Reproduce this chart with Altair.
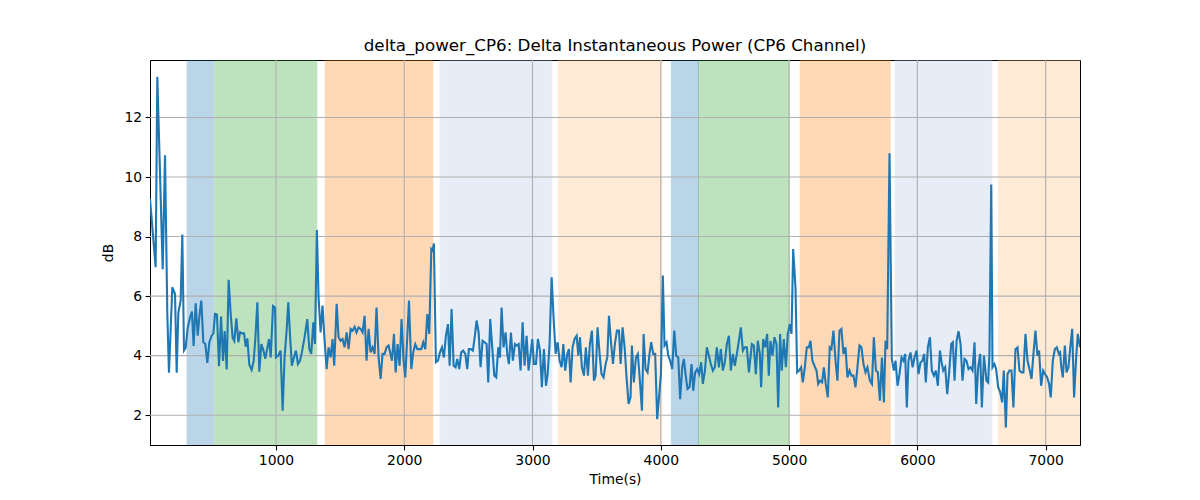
import altair as alt
import pandas as pd

# ---- data ----
times = [18, 62, 75, 117, 135, 153, 166, 192, 213, 226, 239, 257, 270, 283, 296, 312, 330, 345, 358, 374,
         390, 405, 418, 434, 449, 465, 481, 499, 512, 525, 540, 556, 572, 587, 600, 616, 631, 647, 662, 675,
         691, 707, 720, 735, 751, 764, 777, 792, 810, 826, 839, 855, 870, 886, 902, 917, 933, 946, 959, 977, 993,
         1000, 1018, 1036, 1052, 1067, 1083, 1096, 1109, 1124, 1140, 1156, 1171, 1187, 1202, 1223, 1244, 1260,
         1275, 1291, 1304, 1319, 1332, 1348, 1363, 1379, 1395, 1410, 1426, 1441, 1454, 1473, 1488, 1504, 1519,
         1535, 1551, 1566, 1582, 1597, 1613, 1628, 1644, 1660, 1675, 1691, 1706, 1722, 1738, 1753, 1769, 1784,
         1800, 1816, 1831, 1847, 1862, 1878,
         1904, 1920, 1933, 1948, 1964, 1979, 1995, 2008, 2024, 2037, 2055, 2070, 2086, 2102, 2117, 2133, 2148,
         2164, 2180, 2195, 2211, 2221, 2231, 2247, 2263, 2278, 2294, 2309, 2325, 2341, 2354, 2369, 2385, 2400,
         2413, 2429, 2444, 2460, 2476, 2491, 2504, 2520, 2535, 2551, 2564, 2580, 2595, 2611, 2626, 2642, 2655,
         2670, 2686, 2702, 2717, 2733, 2746, 2759, 2774, 2790, 2803, 2816, 2832, 2847, 2863,
         2876, 2892, 2907, 2923, 2938, 2954, 2969, 2985, 2998, 3011, 3027, 3042, 3058, 3073, 3089, 3105, 3118,
         3133, 3149, 3164, 3180, 3196, 3211, 3227, 3240, 3255, 3271, 3284, 3297, 3312, 3328, 3344, 3357, 3370,
         3385, 3401, 3416, 3432, 3447, 3463, 3479, 3492, 3507, 3523, 3538, 3554, 3570, 3583, 3596, 3611, 3627,
         3642, 3658, 3674, 3687, 3702, 3718, 3733, 3749, 3764,
         3775, 3790, 3806, 3821, 3837, 3853, 3866, 3881, 3897, 3912, 3925, 3941, 3956, 3972, 3988, 4001, 4016,
         4029, 4045, 4058, 4073, 4089, 4105, 4120, 4136, 4151, 4167, 4180, 4193, 4208, 4224, 4240, 4253, 4268,
         4284, 4299, 4315, 4328, 4344, 4359, 4375, 4390, 4406, 4421, 4437, 4453, 4468, 4484, 4499, 4515, 4531,
         4546, 4562, 4577, 4593, 4609, 4624, 4640, 4655, 4671, 4687,
         4710, 4725, 4741, 4756, 4772, 4782, 4798, 4814, 4829, 4842, 4855, 4871, 4886, 4902, 4915, 4930, 4943,
         4959, 4975, 4990, 5006, 5019, 5032, 5050, 5063, 5078, 5094, 5107, 5123, 5138, 5154, 5167, 5182, 5198,
         5214, 5227, 5242, 5258, 5271, 5286, 5302, 5317, 5330, 5346, 5362, 5377, 5393, 5408, 5424, 5440, 5455,
         5471, 5486, 5502, 5518, 5533, 5549, 5564, 5580, 5596, 5611,
         5630, 5646, 5661, 5677, 5692, 5708, 5724, 5739, 5752, 5765, 5783, 5801, 5817, 5830, 5846, 5861, 5877,
         5892, 5905, 5918, 5931, 5947, 5963, 5978, 5994, 6009, 6025, 6040, 6053, 6066, 6082, 6098, 6113, 6129,
         6144, 6160, 6176, 6189, 6202, 6217, 6233, 6248, 6264, 6277, 6290, 6306, 6321, 6337, 6352, 6368, 6383,
         6399, 6415, 6430, 6446, 6459, 6474, 6490, 6503, 6519,
         6539, 6552, 6562, 6576, 6586, 6601, 6614, 6630, 6646, 6661, 6674, 6690, 6703, 6718, 6734, 6749, 6765,
         6781, 6796, 6812, 6827, 6843, 6859, 6874, 6890, 6905, 6921, 6936, 6949, 6965, 6981, 6996, 7012, 7027,
         7040, 7056, 7072, 7087, 7103, 7113, 7121, 7134, 7150, 7163, 7178, 7191, 7207, 7222, 7238, 7251, 7268]

values = [9.27, 6.97, 13.37, 6.9, 10.73, 5.4, 3.43, 6.3, 6.07, 3.43, 5.45, 5.85, 8.07, 4.18, 4.27, 4.94, 5.28, 5.48, 4.33, 5.76,
          4.67, 5.4, 5.85, 4.45, 4.4, 3.76, 4.45, 4.67, 4.75, 5.4, 5.38, 3.65, 5.31, 3.82, 4.83, 3.54, 6.55, 5.4, 4.6, 4.49,
          5.25, 4.45, 4.79, 4.75, 4.75, 4.3, 4.58, 3.7, 3.52, 3.82, 4.56, 5.79, 3.46, 4.39, 4.18, 3.9, 4.27, 4.56, 3.94, 5.67, 5.62,
          3.94, 4.0, 4.17, 2.15, 3.94, 4.84, 5.79, 4.73, 3.66, 3.94, 4.17, 3.72, 3.83, 4.11, 4.62, 5.23, 4.22,
          4.06, 5.12, 4.39, 8.22, 5.96, 4.78, 5.68, 4.5, 3.55, 4.28, 3.94, 4.56, 3.66, 5.74, 4.62, 4.5, 4.56,
          4.28, 4.78, 4.22, 4.9, 4.84, 4.97, 4.78, 4.95, 4.9, 4.78, 5.34, 3.83, 4.9, 4.11, 4.28, 4.06, 5.62,
          3.94, 3.22, 4.06, 4.06, 4.28, 4.34,
          3.83, 4.73, 3.44, 4.39, 3.66, 5.23, 3.83, 3.27, 4.67, 5.85, 3.55, 4.11, 4.39, 4.22, 4.22, 4.22, 4.45,
          4.22, 5.4, 4.73, 7.58, 7.53, 7.77, 3.78, 3.83, 4.11, 4.28, 3.94, 4.67, 5.06, 3.66, 5.57, 3.66, 3.61,
          3.89, 3.55, 4.11, 4.17, 4.06, 3.55, 4.22, 4.22, 4.17, 4.67, 5.18, 4.78, 3.61, 4.5, 4.45, 4.39, 3.1,
          5.23, 4.28, 3.33, 3.27, 4.28, 3.94, 5.62, 4.28, 4.78, 4.06, 3.72, 4.78, 3.83, 4.39,
          4.34, 4.39, 3.5, 5.12, 3.66, 4.67, 3.5, 4.06, 4.56, 3.72, 3.72, 4.56, 4.17, 2.94, 4.22, 2.99, 3.38,
          4.39, 6.63, 5.29, 4.06, 4.45, 3.83, 3.61, 4.39, 3.5, 4.06, 4.22, 3.1, 4.28, 4.56, 4.67, 4.0, 4.62,
          3.61, 3.33, 4.28, 3.33, 4.39, 4.84, 3.16, 3.33, 4.95, 4.06, 3.38, 3.27, 3.72, 3.94, 5.34, 4.5, 3.72,
          4.39, 4.84, 4.84, 3.72, 4.95, 4.28, 3.27, 2.38, 2.6,
          4.34, 3.1, 3.94, 4.06, 3.16, 2.15, 4.73, 3.55, 3.44, 4.06, 4.45, 4.06, 4.06, 1.87, 2.71, 3.38, 6.69,
          4.34, 4.45, 4.0, 3.83, 3.55, 4.84, 4.0, 3.94, 2.54, 3.61, 3.89, 3.38, 2.88, 2.94, 3.72, 2.82, 3.44,
          3.55, 3.38, 3.78, 3.05, 3.5, 4.28, 4.0, 3.72, 3.5, 3.61, 4.28, 3.61, 4.22, 3.5, 3.78, 4.39, 4.67,
          3.5, 4.06, 3.66, 4.06, 4.5, 4.95, 4.17, 4.28, 4.28, 3.44,
          4.39, 4.34, 3.38, 4.5, 4.06, 2.94, 4.56, 4.28, 4.73, 3.33, 4.5, 4.0, 4.62, 4.39, 2.26, 4.73, 3.5,
          4.56, 3.61, 4.73, 5.06, 4.73, 7.58, 6.3, 3.44, 3.5, 3.61, 3.1, 3.61, 4.28, 4.28, 4.5, 3.83, 3.66,
          3.5, 3.05, 3.16, 3.1, 3.61, 3.05, 2.6, 4.28, 4.22, 4.84, 3.83, 3.16, 4.84, 4.9, 4.06, 4.28, 3.27,
          3.5, 3.33, 3.33, 2.94, 3.61, 4.34, 4.28, 3.72, 3.44, 3.61,
          3.16, 3.05, 4.62, 3.5, 3.44, 2.49, 3.94, 2.43, 4.5, 4.22, 10.8, 3.89, 3.5, 3.83, 2.99, 3.38, 3.94,
          3.83, 4.06, 2.26, 3.83, 4.11, 3.61, 3.94, 4.17, 3.38, 3.78, 3.83, 4.06, 3.1, 4.28, 4.62, 3.5, 3.33,
          3.5, 2.99, 4.17, 3.78, 3.5, 3.61, 2.71, 3.44, 4.39, 4.45, 3.16, 4.5, 4.82, 4.39, 3.16, 3.89, 3.83,
          3.55, 3.61, 3.5, 4.45, 2.38, 3.61, 4.06, 2.26, 4.0,
          3.16, 3.1, 4.06, 9.75, 3.61, 3.72, 3.55, 2.94, 2.77, 2.43, 3.5, 1.59, 3.38, 3.5, 3.5, 2.26, 4.22,
          4.28, 3.5, 3.44, 3.44, 4.73, 3.83, 3.55, 3.22, 4.06, 4.84, 4.0, 4.17, 2.99, 3.5, 3.38, 3.27, 3.05,
          2.6, 3.83, 4.22, 4.28, 4.06, 4.11, 3.66, 3.27, 4.34, 3.44, 3.61, 4.22, 4.9, 2.6, 3.94, 4.73, 4.28]

band_start = [307, 522, 1384, 2280, 3202, 4082, 4294, 5087, 5827, 6632]
band_end = [512, 1318, 2222, 3151, 4008, 4294, 5003, 5788, 6581, 7268]
band_kind = ["k1", "k2", "k3", "k4", "k5", "k1", "k2", "k3", "k4", "k5"]

kind_names = ["k1", "k2", "k3", "k4", "k5"]
kind_colors = ["#1f77b4", "#2ca02c", "#ff7f0e", "#aec7e8", "#ffbb78"]

x_ticks = [1000, 2000, 3000, 4000, 5000, 6000, 7000]
y_ticks = [2, 4, 6, 8, 10, 12]

series = pd.DataFrame({"t": times, "v": values})
bands = pd.DataFrame({"start": band_start, "end": band_end, "kind": band_kind})
xgrid = pd.DataFrame({"t": x_ticks})
ygrid = pd.DataFrame({"v": y_ticks})

xscale = alt.Scale(domain=[18, 7268], nice=False, zero=False)
yscale = alt.Scale(domain=[1.0, 13.93], nice=False, zero=False)
xaxis = alt.Axis(values=x_ticks, format="d", title="Time(s)")
yaxis = alt.Axis(values=y_ticks, format="d", title="dB")
cscale = alt.Scale(domain=kind_names, range=kind_colors)

band_layer = alt.Chart(bands).mark_rect(opacity=0.3, strokeWidth=1, clip=True).encode(
    x=alt.X("start:Q", scale=xscale, axis=xaxis),
    x2="end:Q",
    color=alt.Color("kind:N", scale=cscale, legend=None),
    stroke=alt.Stroke("kind:N", scale=cscale, legend=None),
)

vgrid = alt.Chart(xgrid).mark_rule(color="#b0b0b0", strokeWidth=1.1).encode(
    x=alt.X("t:Q", scale=xscale, axis=xaxis)
)
hgrid = alt.Chart(ygrid).mark_rule(color="#b0b0b0", strokeWidth=1.1).encode(
    y=alt.Y("v:Q", scale=yscale, axis=yaxis)
)

line = alt.Chart(series).mark_line(color="#1f77b4", strokeWidth=2.1, clip=True).encode(
    x=alt.X("t:Q", scale=xscale, axis=xaxis),
    y=alt.Y("v:Q", scale=yscale, axis=yaxis),
)

chart = alt.layer(band_layer, vgrid, hgrid, line).properties(
    width=930,
    height=385,
    padding={"left": 142, "top": 52, "right": 100, "bottom": 45},
    autosize=alt.AutoSizeParams(type="none"),
    title=alt.TitleParams(
        "delta_power_CP6: Delta Instantaneous Power (CP6 Channel)",
        font="DejaVu Sans", fontSize=16.7, fontWeight="normal", color="black",
        anchor="middle", offset=5,
    ),
).configure_view(
    stroke="black", strokeWidth=1
).configure_axis(
    grid=False,
    zindex=1,
    labelFont="DejaVu Sans", labelFontSize=13.9, labelColor="black",
    titleFont="DejaVu Sans", titleFontSize=13.9, titleFontWeight="normal", titleColor="black",
    domainColor="black", domainWidth=1,
    tickColor="black", tickSize=4.9, tickWidth=1.1,
    labelPadding=3.5,
).configure_axisX(
    titlePadding=5
).configure_axisY(
    titlePadding=8
)

chart.save("out.html", embed_options={"renderer": "svg", "actions": False})
